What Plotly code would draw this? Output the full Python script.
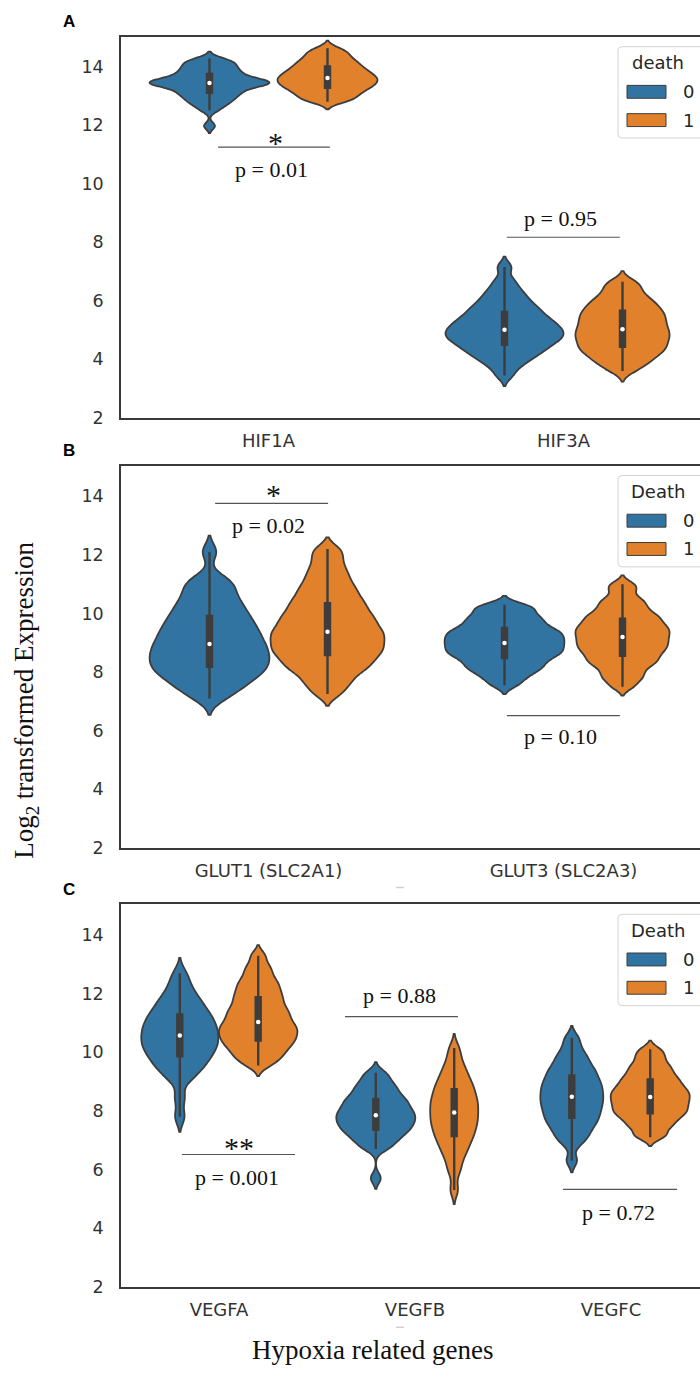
import numpy as np
import plotly.graph_objects as go

W, H = 700, 1374

# ---------------- data ----------------
cats_A = ["HIF1A", "HIF3A"]
cats_B = ["GLUT1 (SLC2A1)", "GLUT3 (SLC2A3)"]
cats_C = ["VEGFA", "VEGFB", "VEGFC"]
death_levels = ["0", "1"]

HIF1A_0 = [11.97, 12.5, 12.64, 12.73, 12.81, 12.87, 12.94, 13.0, 13.05, 13.1, 13.15, 13.2, 13.25, 13.29,
           13.33, 13.36, 13.39, 13.41, 13.43, 13.45, 13.47, 13.49, 13.51, 13.54, 13.57, 13.61, 13.65, 13.7,
           13.75, 13.8, 13.85, 13.9, 13.96, 14.02, 14.08, 14.14, 14.2, 14.27]
HIF1A_1 = [12.8, 12.85, 12.91, 12.98, 13.04, 13.11, 13.15, 13.2, 13.25, 13.3, 13.33, 13.37, 13.41, 13.45,
           13.48, 13.52, 13.56, 13.59, 13.63, 13.66, 13.7, 13.74, 13.79, 13.83, 13.87, 13.92, 13.97, 14.03,
           14.08, 14.14, 14.2, 14.27, 14.35, 14.44, 14.52, 14.62]
HIF3A_0 = [3.45, 3.73, 3.88, 4.01, 4.1, 4.19, 4.27, 4.34, 4.41, 4.47, 4.53, 4.6, 4.65, 4.7, 4.75, 4.79,
           4.84, 4.89, 4.94, 4.99, 5.04, 5.09, 5.14, 5.19, 5.25, 5.31, 5.37, 5.44, 5.5, 5.58, 5.66, 5.74,
           5.82, 5.92, 6.03, 6.16, 6.29, 6.47, 6.71, 7.15]
HIF3A_1 = [3.6, 3.75, 3.88, 3.96, 4.05, 4.14, 4.22, 4.28, 4.34, 4.4, 4.46, 4.53, 4.59, 4.65, 4.71, 4.77,
           4.83, 4.88, 4.94, 5.0, 5.06, 5.12, 5.19, 5.25, 5.31, 5.38, 5.44, 5.51, 5.57, 5.63, 5.7, 5.78,
           5.86, 5.93, 6.01, 6.12, 6.23, 6.37, 6.54, 6.65]
GLUT1_0 = [7.1, 7.3, 7.44, 7.58, 7.7, 7.81, 7.9, 7.99, 8.06, 8.14, 8.22, 8.3, 8.37, 8.45, 8.53, 8.61,
           8.68, 8.76, 8.84, 8.92, 9.0, 9.09, 9.18, 9.27, 9.36, 9.45, 9.54, 9.65, 9.76, 9.86, 9.97, 10.1,
           10.23, 10.37, 10.5, 10.69, 10.88, 11.05, 11.2, 12.1]
GLUT1_1 = [7.25, 7.52, 7.7, 7.88, 8.03, 8.14, 8.24, 8.34, 8.44, 8.54, 8.62, 8.7, 8.78, 8.86, 8.94, 9.02,
           9.1, 9.18, 9.26, 9.34, 9.41, 9.49, 9.59, 9.68, 9.77, 9.86, 9.96, 10.06, 10.18, 10.29, 10.41,
           10.53, 10.68, 10.83, 10.98, 11.18, 11.38, 11.62, 11.91, 12.2]
GLUT3_0 = [7.55, 7.75, 7.89, 8.02, 8.1, 8.19, 8.27, 8.35, 8.44, 8.51, 8.57, 8.63, 8.68, 8.74, 8.8, 8.85,
           8.91, 8.97, 9.02, 9.08, 9.13, 9.19, 9.25, 9.3, 9.36, 9.42, 9.47, 9.55, 9.63, 9.72, 9.8, 9.89,
           9.97, 10.12, 10.2, 10.3]
GLUT3_1 = [7.5, 7.72, 7.86, 8.0, 8.15, 8.26, 8.34, 8.43, 8.51, 8.6, 8.68, 8.75, 8.82, 8.89, 8.96, 9.02,
           9.09, 9.16, 9.23, 9.29, 9.36, 9.42, 9.49, 9.55, 9.62, 9.7, 9.78, 9.86, 9.94, 10.02, 10.15,
           10.27, 10.4, 10.54, 10.8, 11.0]
VEGFA_0 = [7.8, 8.45, 9.07, 9.23, 9.39, 9.53, 9.62, 9.72, 9.82, 9.91, 10.01, 10.08, 10.16, 10.23, 10.31,
           10.38, 10.46, 10.53, 10.61, 10.68, 10.76, 10.84, 10.91, 10.99, 11.07, 11.16, 11.25, 11.34,
           11.43, 11.54, 11.67, 11.8, 11.93, 12.13, 12.38, 12.7]
VEGFA_1 = [9.55, 9.7, 9.83, 9.93, 10.03, 10.13, 10.22, 10.29, 10.37, 10.44, 10.51, 10.58, 10.65, 10.72,
           10.79, 10.85, 10.92, 10.99, 11.08, 11.16, 11.25, 11.33, 11.42, 11.5, 11.61, 11.72, 11.83,
           11.93, 12.05, 12.17, 12.3, 12.42, 12.58, 12.78, 12.97, 13.3]
VEGFB_0 = [5.7, 6.7, 6.81, 6.93, 7.04, 7.12, 7.2, 7.28, 7.34, 7.4, 7.46, 7.52, 7.58, 7.63, 7.69, 7.75,
           7.8, 7.85, 7.91, 7.96, 8.02, 8.08, 8.15, 8.22, 8.28, 8.35, 8.42, 8.48, 8.58, 8.68, 8.78, 8.88,
           8.98, 9.18, 9.3]
VEGFB_1 = [5.3, 5.9, 6.19, 6.46, 6.62, 6.77, 6.92, 7.04, 7.14, 7.25, 7.35, 7.45, 7.55, 7.63, 7.72, 7.81,
           7.9, 7.99, 8.08, 8.17, 8.26, 8.34, 8.43, 8.53, 8.63, 8.74, 8.84, 8.94, 9.07, 9.22, 9.37, 9.55,
           9.82, 10.15]
VEGFC_0 = [6.3, 6.86, 7.06, 7.2, 7.33, 7.47, 7.57, 7.66, 7.76, 7.85, 7.94, 8.03, 8.11, 8.2, 8.28, 8.36,
           8.44, 8.52, 8.6, 8.68, 8.77, 8.85, 8.93, 9.01, 9.11, 9.21, 9.31, 9.41, 9.51, 9.66, 9.81, 9.95,
           10.2, 10.5]
VEGFC_1 = [7.1, 7.19, 7.38, 7.49, 7.59, 7.69, 7.78, 7.86, 7.92, 7.99, 8.05, 8.12, 8.19, 8.25, 8.32, 8.38,
           8.44, 8.51, 8.57, 8.63, 8.69, 8.76, 8.83, 8.91, 8.99, 9.07, 9.16, 9.25, 9.37, 9.48, 9.59, 9.76,
           9.92, 10.1]

p_labels_A = ["p = 0.01", "p = 0.95"]
p_labels_B = ["p = 0.02", "p = 0.10"]
p_labels_C = ["p = 0.001", "p = 0.88", "p = 0.72"]
stars_A = ["*", ""]
stars_B = ["*", ""]
stars_C = ["**", "", ""]

# ---------------- styles ----------------
COL = {"0": "#3274a1", "1": "#e1812c"}
EDGE = "#3d3d3d"
SANS = "DejaVu Sans"
SERIF = "Liberation Serif"

# per violin: (kde bandwidth, full width in category units)
vstyle = {
    ("HIF1A", "0"): (0.12, 0.406), ("HIF1A", "1"): (0.13, 0.339),
    ("HIF3A", "0"): (0.18, 0.400), ("HIF3A", "1"): (0.18, 0.319),
    ("GLUT1 (SLC2A1)", "0"): (0.28, 0.406), ("GLUT1 (SLC2A1)", "1"): (0.20, 0.386),
    ("GLUT3 (SLC2A3)", "0"): (0.15, 0.406), ("GLUT3 (SLC2A3)", "1"): (0.15, 0.319),
    ("VEGFA", "0"): (0.26, 0.393), ("VEGFA", "1"): (0.18, 0.400),
    ("VEGFB", "0"): (0.18, 0.403), ("VEGFB", "1"): (0.24, 0.245),
    ("VEGFC", "0"): (0.20, 0.321), ("VEGFC", "1"): (0.15, 0.403),
}

panels = [
    dict(letter="A", cats=cats_A, data=[(HIF1A_0, HIF1A_1), (HIF3A_0, HIF3A_1)],
         top=37, bottom=421, ppu=295.0, legend_title="death", legend_top=47,
         ann=[dict(x0=-0.171, x1=0.208, yl=11.25, ys=11.40, yp=10.5),
              dict(x0=0.808, x1=1.191, yl=8.17, ys=None, yp=8.81)],
         plabels=p_labels_A, stars=stars_A),
    dict(letter="B", cats=cats_B, data=[(GLUT1_0, GLUT1_1), (GLUT3_0, GLUT3_1)],
         top=469, bottom=854, ppu=295.0, legend_title="Death", legend_top=479,
         ann=[dict(x0=-0.181, x1=0.202, yl=13.76, ys=14.05, yp=13.02),
              dict(x0=0.808, x1=1.191, yl=6.51, ys=None, yp=5.8)],
         plabels=p_labels_B, stars=stars_B),
    dict(letter="C", cats=cats_C, data=[(VEGFA_0, VEGFA_1), (VEGFB_0, VEGFB_1), (VEGFC_0, VEGFC_1)],
         top=911, bottom=1296, ppu=196.0, legend_title="Death", legend_top=921,
         ann=[dict(x0=-0.189, x1=0.388, yl=6.51, ys=6.76, yp=5.73),
              dict(x0=0.643, x1=1.219, yl=11.22, ys=None, yp=11.93),
              dict(x0=1.755, x1=2.337, yl=5.32, ys=None, yp=4.54)],
         plabels=p_labels_C, stars=stars_C),
]

PLOT_LEFT = 121
PX_PER_VAL = 29.5


def fx(px):
    return px / W


def fy(py):
    return 1 - py / H


fig = go.Figure()
layout = dict(width=W, height=H, margin=dict(l=0, r=0, t=0, b=0),
              paper_bgcolor="white", plot_bgcolor="white", showlegend=False,
              violinmode="overlay")
shapes, annotations = [], []

for k, p in enumerate(panels):
    sfx = "" if k == 0 else str(k + 1)
    xa, ya = "xaxis" + sfx, "yaxis" + sfx
    xr, yr = "x" + sfx, "y" + sfx
    ppu = p["ppu"]
    xmax = -0.5 + (W - PLOT_LEFT) / ppu
    ytop = 2 + (p["bottom"] - p["top"]) / PX_PER_VAL
    layout[xa] = dict(domain=[fx(PLOT_LEFT), 1.0], range=[-0.5, xmax], anchor=yr,
                      tickvals=list(range(len(p["cats"]))), ticktext=p["cats"],
                      showline=True, mirror=True, linecolor="#3a3a3a", linewidth=1.5,
                      showgrid=False, zeroline=False, ticks="", ticklabelstandoff=6,
                      tickfont=dict(family=SANS, size=18, color="#333333"))
    layout[ya] = dict(domain=[fy(p["bottom"]), fy(p["top"])], range=[2, ytop], anchor=xr,
                      tickvals=[2, 4, 6, 8, 10, 12, 14],
                      showline=True, mirror=False, linecolor="#3a3a3a", linewidth=1.5,
                      showgrid=False, zeroline=False, ticks="", ticklabelstandoff=12,
                      tickfont=dict(family=SANS, size=17.5, color="#333333"))

    for i, cat in enumerate(p["cats"]):
        for j, g in enumerate(death_levels):
            vals = p["data"][i][j]
            bw, wid = vstyle[(cat, g)]
            pos = i + (-0.2 if j == 0 else 0.2)
            fig.add_trace(go.Violin(
                y=vals, x0=pos, xaxis=xr, yaxis=yr, name=f"{cat} {g}",
                width=wid, bandwidth=bw, scalemode="width", spanmode="soft",
                fillcolor=COL[g], opacity=1, line=dict(color=EDGE, width=1.8),
                points=False, meanline_visible=False,
                box=dict(visible=True, width=5.0 / (wid * ppu), fillcolor=EDGE,
                         line=dict(color=EDGE, width=2.4)),
                hoverinfo="skip"))
            fig.add_trace(go.Scatter(
                x=[pos], y=[float(np.median(vals))], xaxis=xr, yaxis=yr, mode="markers",
                marker=dict(color="white", size=4.5, line=dict(width=0)), hoverinfo="skip"))

    # significance annotations
    for i, a in enumerate(p["ann"]):
        shapes.append(dict(type="line", xref=xr, yref=yr, x0=a["x0"], x1=a["x1"],
                           y0=a["yl"], y1=a["yl"], line=dict(color="#555555", width=1.2)))
        xc = (a["x0"] + a["x1"]) / 2
        annotations.append(dict(x=xc - 0.01, y=a["yp"], xref=xr, yref=yr, text=p["plabels"][i],
                                showarrow=False, xanchor="center", yanchor="middle",
                                font=dict(family=SERIF, size=22, color="#111111")))
        if p["stars"][i]:
            annotations.append(dict(x=xc + 0.005, y=a["ys"], xref=xr, yref=yr, text=p["stars"][i],
                                    showarrow=False, xanchor="center", yanchor="middle",
                                    font=dict(family=SERIF, size=30, color="#111111")))

    # panel letter
    annotations.append(dict(x=fx(69), y=fy(p["top"] - 15), xref="paper", yref="paper",
                            text=f"<b>{p['letter']}</b>", showarrow=False,
                            xanchor="center", yanchor="middle",
                            font=dict(family="Liberation Sans", size=17, color="#000000")))

    # legend (drawn)
    lt = p["legend_top"]
    lx0, lx1, lb = 618, 712, lt + 92
    r = 4
    path = (f"M {fx(lx1)},{fy(lt)} L {fx(lx0 + r)},{fy(lt)} Q {fx(lx0)},{fy(lt)} {fx(lx0)},{fy(lt + r)} "
            f"L {fx(lx0)},{fy(lb - r)} Q {fx(lx0)},{fy(lb)} {fx(lx0 + r)},{fy(lb)} L {fx(lx1)},{fy(lb)} Z")
    shapes.append(dict(type="path", xref="paper", yref="paper", path=path,
                       fillcolor="rgba(255,255,255,0.85)", line=dict(color="#d4d4d4", width=1),
                       layer="above"))
    annotations.append(dict(x=fx(658), y=fy(lt + 16), xref="paper", yref="paper",
                            text=p["legend_title"], showarrow=False, xanchor="center", yanchor="middle",
                            font=dict(family=SANS, size=18, color="#262626")))
    for j, g in enumerate(death_levels):
        t = lt + 39 + j * 28.5
        shapes.append(dict(type="rect", xref="paper", yref="paper", x0=fx(627), x1=fx(666),
                           y0=fy(t), y1=fy(t + 13), fillcolor=COL[g],
                           line=dict(color=EDGE, width=1), layer="above"))
        annotations.append(dict(x=fx(688), y=fy(t + 6.5), xref="paper", yref="paper", text=g,
                                showarrow=False, xanchor="center", yanchor="middle",
                                font=dict(family=SANS, size=18, color="#262626")))

# axis titles
annotations.append(dict(x=fx(26), y=fy(706), xref="paper", yref="paper",
                        text="Log<sub>2</sub> transformed Expression", textangle=-90,
                        showarrow=False, xanchor="center", yanchor="middle",
                        font=dict(family=SERIF, size=27, color="#111111")))
annotations.append(dict(x=fx(372), y=fy(1360), xref="paper", yref="paper",
                        text="Hypoxia related genes", showarrow=False,
                        xanchor="center", yanchor="middle",
                        font=dict(family=SERIF, size=27, color="#111111")))

# faint scan marks
for py in (894, 1337):
    shapes.append(dict(type="line", xref="paper", yref="paper", x0=fx(396), x1=fx(404),
                       y0=fy(py), y1=fy(py), line=dict(color="#cfcfcf", width=1.5)))

layout["shapes"] = shapes
layout["annotations"] = annotations
fig.update_layout(**layout)
fig.write_html("out.html", config={"displayModeBar": False},
               post_script="document.body.style.margin='0px';document.body.style.overflow='hidden';")
